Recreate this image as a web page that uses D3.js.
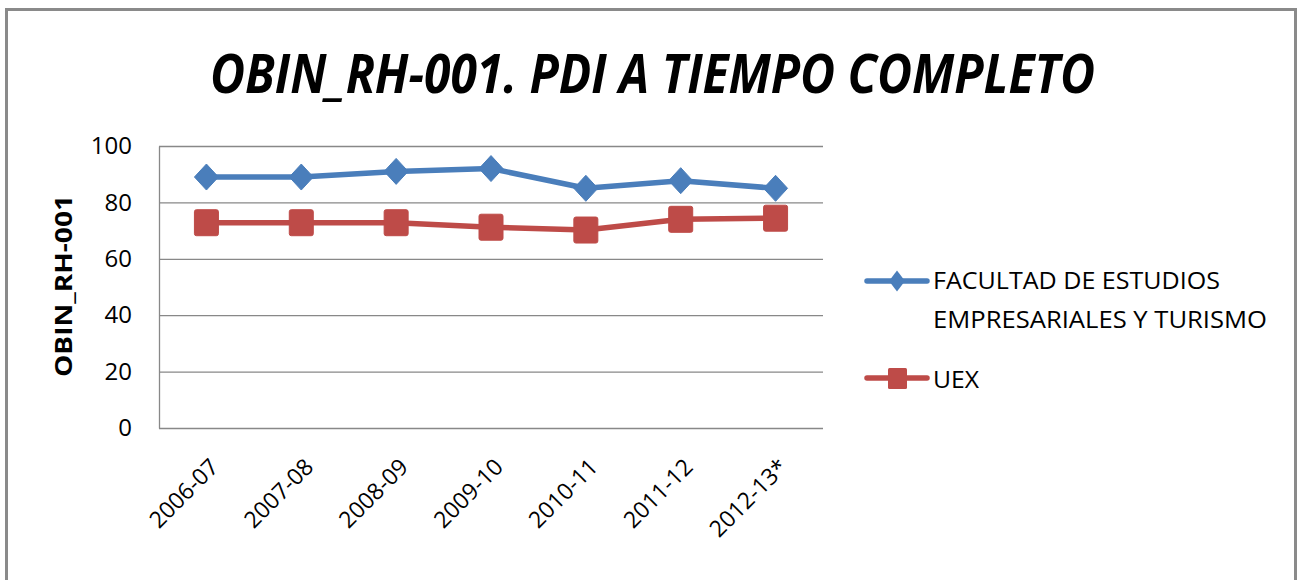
<!DOCTYPE html>
<html>
<head>
<meta charset="utf-8">
<script src="https://cdn.jsdelivr.net/npm/d3@7"></script>
<style>
  html, body { margin: 0; padding: 0; background: #fff; }
  svg { display: block; }
  text { font-family: "Open Sans", "Liberation Sans", sans-serif; fill: #000; }
</style>
</head>
<body>
<svg id="chart" width="1298" height="580"></svg>
<script>
const categories = ["2006-07", "2007-08", "2008-09", "2009-10", "2010-11", "2011-12", "2012-13*"];
const facultad = [89, 89, 91, 92, 85, 87.7, 85];
const uex = [72.8, 72.8, 72.8, 71.2, 70.2, 74, 74.4];
const yTicks = [0, 20, 40, 60, 80, 100];
const seriesNames = ["FACULTAD DE ESTUDIOS", "EMPRESARIALES Y TURISMO"];
const seriesName2 = "UEX";
const title = "OBIN_RH-001. PDI A TIEMPO COMPLETO";
const yTitle = "OBIN_RH-001";

const blue = "#4A7EBB", red = "#BE4B48", grid = "#888888";

const svg = d3.select("#chart");

// outer border
svg.append("rect").attr("x", 6.5).attr("y", 9.5).attr("width", 1289).attr("height", 600)
  .attr("fill", "#fff").attr("stroke", "#8a8a8a").attr("stroke-width", 3);

const plot = { left: 159, right: 823, top: 146, bottom: 428 };
const x = d3.scalePoint().domain(categories).range([plot.left, plot.right]).padding(0.5);
const y = d3.scaleLinear().domain([0, 100]).range([plot.bottom, plot.top]);

// title
svg.append("text").attr("x", 210).attr("y", 93)
  .attr("font-size", 53).attr("font-weight", "bold").attr("font-style", "italic")
  .attr("textLength", 885).attr("lengthAdjust", "spacingAndGlyphs")
  .text(title);

// gridlines
svg.append("g").selectAll("line").data(yTicks.filter(d => d > 0)).join("line")
  .attr("x1", plot.left).attr("x2", plot.right)
  .attr("y1", d => y(d) + 0.5).attr("y2", d => y(d) + 0.5)
  .attr("stroke", grid).attr("stroke-width", 1.3);

// y axis
const yAxis = svg.append("g").attr("transform", `translate(${plot.left},0)`)
  .call(d3.axisLeft(y).tickValues(yTicks).tickSize(0).tickPadding(27));
yAxis.select(".domain").attr("stroke", grid).attr("stroke-width", 1.3);
yAxis.selectAll("text").attr("font-size", 24).attr("font-family", "\"Open Sans\", sans-serif").attr("fill", "#000");

// x axis
const xAxis = svg.append("g").attr("transform", `translate(0,${plot.bottom + 0.5})`)
  .call(d3.axisBottom(x).tickSize(0).tickSizeOuter(0));
xAxis.select(".domain").attr("stroke", grid).attr("stroke-width", 1.3)
  .attr("d", `M${plot.left},0H${plot.right}`);
xAxis.selectAll("text")
  .attr("font-size", 23).attr("font-family", "\"Open Sans\", sans-serif").attr("fill", "#000")
  .attr("x", 0).attr("y", 0).attr("dy", 0)
  .attr("text-anchor", "end")
  .attr("transform", "translate(13,40) rotate(-45)");

// y axis title
svg.append("text")
  .attr("transform", `translate(72,286) rotate(-90)`)
  .attr("text-anchor", "middle").attr("font-size", 23).attr("font-weight", "bold")
  .attr("textLength", 182).attr("lengthAdjust", "spacingAndGlyphs")
  .text(yTitle);

// lines
const line = d3.line().x((d, i) => x(categories[i])).y(d => y(d));
svg.append("path").datum(facultad).attr("d", line)
  .attr("fill", "none").attr("stroke", blue).attr("stroke-width", 5.5)
  .attr("stroke-linejoin", "round").attr("stroke-linecap", "round");
svg.append("path").datum(uex).attr("d", line)
  .attr("fill", "none").attr("stroke", red).attr("stroke-width", 5.5)
  .attr("stroke-linejoin", "round").attr("stroke-linecap", "round");

// markers
function diamond(w, h) { return `M0,${-h/2}L${w/2},0L0,${h/2}L${-w/2},0Z`; }
svg.append("g").selectAll("path").data(facultad).join("path")
  .attr("transform", (d, i) => `translate(${x(categories[i])},${y(d)})`)
  .attr("d", diamond(24, 26)).attr("fill", blue).attr("stroke", blue).attr("stroke-width", 1).attr("stroke-linejoin", "round");
svg.append("g").selectAll("rect").data(uex).join("rect")
  .attr("x", (d, i) => x(categories[i]) - 12).attr("y", d => y(d) - 13)
  .attr("width", 24).attr("height", 26).attr("rx", 2)
  .attr("fill", red).attr("stroke", red).attr("stroke-width", 1);

// legend
const lg = svg.append("g");
lg.append("line").attr("x1", 867).attr("x2", 927).attr("y1", 281).attr("y2", 281)
  .attr("stroke", blue).attr("stroke-width", 5.5).attr("stroke-linecap", "round");
lg.append("path").attr("transform", "translate(897,281)").attr("d", diamond(16, 21)).attr("fill", blue);
lg.append("text").attr("x", 933).attr("y", 289).attr("font-size", 24)
  .attr("textLength", 287).attr("lengthAdjust", "spacingAndGlyphs").text(seriesNames[0]);
lg.append("text").attr("x", 933).attr("y", 328).attr("font-size", 24)
  .attr("textLength", 334).attr("lengthAdjust", "spacingAndGlyphs").text(seriesNames[1]);
lg.append("line").attr("x1", 867).attr("x2", 927).attr("y1", 378).attr("y2", 378)
  .attr("stroke", red).attr("stroke-width", 5.5).attr("stroke-linecap", "round");
lg.append("rect").attr("x", 888).attr("y", 368).attr("width", 19).attr("height", 21).attr("rx", 1.5).attr("fill", red);
lg.append("text").attr("x", 933).attr("y", 388).attr("font-size", 24)
  .attr("textLength", 46).attr("lengthAdjust", "spacingAndGlyphs").text(seriesName2);
</script>
</body>
</html>
